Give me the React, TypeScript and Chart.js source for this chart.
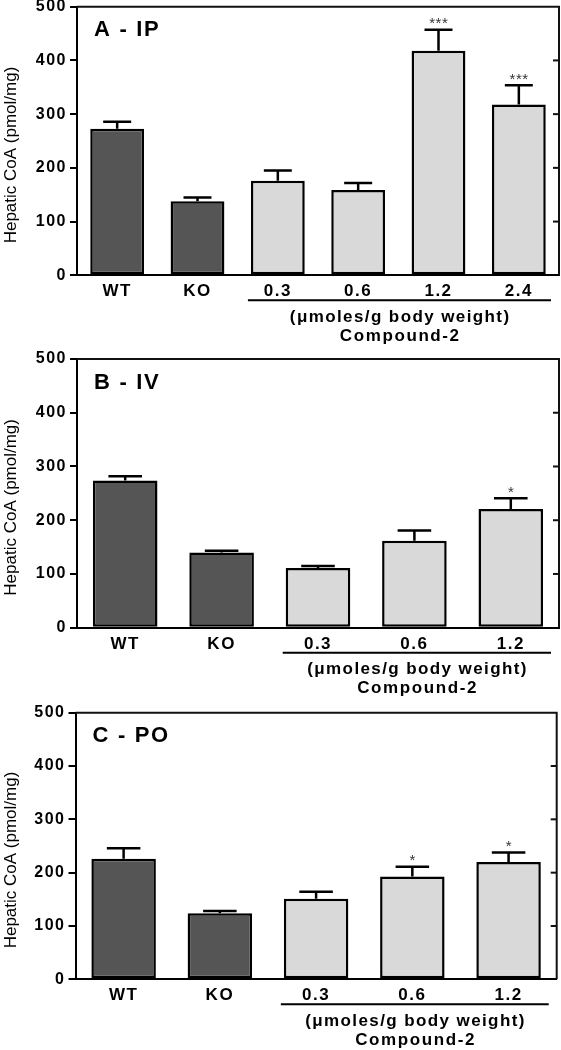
import React, { useEffect, useRef } from 'react';
import { Chart, registerables } from 'chart.js';

Chart.register(...registerables);

const FONT = "'Liberation Sans', Arial, Helvetica, sans-serif";

// ---- Data ----
const catsA = ['WT', 'KO', '0.3', '0.6', '1.2', '2.4'];
const valsA = [273, 138, 176, 159, 418, 318];
const errsA = [13, 7, 19, 13, 39, 36];
const sigA = ['', '', '', '', '***', '***'];

const catsB = ['WT', 'KO', '0.3', '0.6', '1.2'];
const valsB = [274, 140, 111, 162, 221];
const errsB = [8, 3, 4, 19, 20];
const sigB = ['', '', '', '', '*'];

const catsC = ['WT', 'KO', '0.3', '0.6', '1.2'];
const valsC = [226, 124, 151, 193, 220];
const errsC = [20, 4, 13, 18, 18];
const sigC = ['', '', '', '*', '*'];

const yMin = 0;
const yMax = 500;
const yStep = 100;
const yTitle = 'Hepatic CoA (pmol/mg)';
const doseUnit = '(\u03bcmoles/g body weight)';
const compoundName = 'Compound-2';
const controlCount = 2; // WT and KO are controls (dark bars)

// ---- Styles ----
const darkFill = '#555555';
const lightFill = '#d9d9d9';
const ink = '#000000';

type PanelDef = {
  label: string;
  cats: string[];
  vals: number[];
  errs: number[];
  sig: string[];
  top: number;
  bottom: number;
  left: number;
  right: number;
};

const CW = 561;
const CH = 350;

const panels: PanelDef[] = [
  { label: 'A - IP', cats: catsA, vals: valsA, errs: errsA, sig: sigA, top: 6.7, bottom: 275.3, left: 77, right: 559 },
  { label: 'B - IV', cats: catsB, vals: valsB, errs: errsB, sig: sigB, top: 9, bottom: 277.7, left: 77, right: 559 },
  { label: 'C - PO', cats: catsC, vals: valsC, errs: errsC, sig: sigC, top: 12.7, bottom: 279.3, left: 75.5, right: 556.7 },
];

function Panel({ def }: { def: PanelDef }) {
  const ref = useRef<HTMLCanvasElement | null>(null);

  useEffect(() => {
    const canvas = ref.current;
    if (!canvas) return;

    function barAt(chart: any, i: number) {
      const el = chart.getDatasetMeta(0).data[i];
      return el.getProps(['x', 'width'], true);
    }

    const overlay = {
      id: 'overlay',
      beforeDraw(chart: any) {
        chart.ctx.letterSpacing = '1.5px';
      },
      afterDatasetsDraw(chart: any) {
        const ctx = chart.ctx;
        const meta = chart.getDatasetMeta(0);
        const ys = chart.scales.y;
        ctx.save();
        ctx.letterSpacing = '0px';
        meta.data.forEach((bar: any, i: number) => {
          const p = bar.getProps(['x', 'y', 'width'], true);
          const yErr = ys.getPixelForValue(def.vals[i] + def.errs[i]);
          const capW = p.width * 0.52;
          ctx.strokeStyle = ink;
          ctx.lineWidth = 2.5;
          ctx.beginPath();
          ctx.moveTo(p.x, p.y);
          ctx.lineTo(p.x, yErr);
          ctx.moveTo(p.x - capW / 2, yErr);
          ctx.lineTo(p.x + capW / 2, yErr);
          ctx.stroke();
          if (def.sig[i]) {
            ctx.fillStyle = '#333333';
            ctx.font = `15px ${FONT}`;
            ctx.letterSpacing = '0.5px';
            ctx.textAlign = 'center';
            ctx.textBaseline = 'alphabetic';
            ctx.fillText(def.sig[i], p.x + 0.25, yErr - 1.5);
            ctx.letterSpacing = '0px';
          }
        });
        ctx.restore();
      },
      afterDraw(chart: any) {
        const ctx = chart.ctx;
        const a = chart.chartArea;
        const ys = chart.scales.y;
        ctx.save();
        ctx.letterSpacing = '0px';
        ctx.strokeStyle = '#111111';
        ctx.lineWidth = 2;
        // frame top & right
        ctx.beginPath();
        ctx.moveTo(a.left, a.top);
        ctx.lineTo(a.right, a.top);
        ctx.lineTo(a.right, a.bottom);
        ctx.stroke();
        // inward ticks on right border
        ys.ticks.forEach((t: any) => {
          if (t.value <= yMin || t.value >= yMax) return;
          const py = ys.getPixelForValue(t.value);
          ctx.beginPath();
          ctx.moveTo(a.right - 6, py);
          ctx.lineTo(a.right, py);
          ctx.stroke();
        });
        // panel label
        ctx.fillStyle = ink;
        ctx.font = `bold 22px ${FONT}`;
        ctx.letterSpacing = '1.7px';
        ctx.textAlign = 'left';
        ctx.textBaseline = 'alphabetic';
        ctx.fillText(def.label, a.left + 17, a.top + 29.5);
        // y axis title
        ctx.letterSpacing = '0px';
        ctx.save();
        ctx.translate(11, (a.top + a.bottom) / 2 + 14);
        ctx.rotate(-Math.PI / 2);
        ctx.font = `17px ${FONT}`;
        ctx.textAlign = 'center';
        ctx.textBaseline = 'middle';
        ctx.fillText(yTitle, 0, 0);
        ctx.restore();
        // dose underline
        const firstDose = barAt(chart, controlCount);
        const x0 = firstDose.x - firstDose.width / 2 - 3;
        const x1 = a.right - 8;
        ctx.strokeStyle = ink;
        ctx.lineWidth = 2;
        ctx.beginPath();
        ctx.moveTo(x0, a.bottom + 25);
        ctx.lineTo(x1, a.bottom + 25);
        ctx.stroke();
        const cx = (x0 + x1) / 2;
        ctx.font = `bold 17px ${FONT}`;
        ctx.textAlign = 'center';
        ctx.textBaseline = 'middle';
        ctx.letterSpacing = '1.4px';
        ctx.fillText(doseUnit, cx + 0.7, a.bottom + 42);
        ctx.letterSpacing = '1.6px';
        ctx.fillText(compoundName, cx + 0.8, a.bottom + 61);
        ctx.restore();
      },
    };

    const colors = def.cats.map((_, i) => (i < controlCount ? darkFill : lightFill));

    const chart = new Chart(canvas, {
      type: 'bar',
      data: {
        labels: def.cats,
        datasets: [
          {
            data: def.vals,
            backgroundColor: colors,
            borderColor: ink,
            borderWidth: 2.5,
            borderSkipped: false,
            barPercentage: 0.67,
            categoryPercentage: 1.0,
          },
        ],
      },
      options: {
        animation: false,
        responsive: false,
        devicePixelRatio: 1,
        layout: {
          padding: { left: 0, right: CW - def.right, top: def.top, bottom: 0 },
        },
        plugins: {
          legend: { display: false },
          tooltip: { enabled: false },
          title: { display: false },
        },
        scales: {
          x: {
            offset: true,
            grid: { display: false, drawTicks: false },
            border: { display: true, color: ink, width: 2 },
            ticks: {
              color: ink,
              padding: 6,
              font: { family: FONT, size: 17, weight: 'bold' },
              maxRotation: 0,
              autoSkip: false,
            },
            afterFit: (s: any) => {
              s.height = CH - def.bottom;
              s.paddingLeft = 0;
              s.paddingRight = 0;
            },
          },
          y: {
            min: yMin,
            max: yMax,
            grid: {
              display: true,
              drawOnChartArea: false,
              drawTicks: true,
              tickLength: 7,
              color: ink,
              lineWidth: 2,
            },
            border: { display: true, color: ink, width: 2 },
            ticks: {
              stepSize: yStep,
              color: ink,
              padding: 3,
              font: { family: FONT, size: 16, weight: 'bold' },
            },
            afterFit: (s: any) => {
              s.width = def.left;
              s.paddingTop = 0;
              s.paddingBottom = 0;
            },
          },
        },
      },
      plugins: [overlay],
    } as any);

    return () => {
      chart.destroy();
    };
  }, [def]);

  return (
    <canvas
      ref={ref}
      width={CW}
      height={CH}
      style={{ display: 'block', width: CW, height: CH }}
    />
  );
}

export default function App() {
  return (
    <div style={{ position: 'absolute', left: 0, top: 0, width: CW, height: CH * 3, background: '#fff' }}>
      {panels.map((p) => (
        <Panel key={p.label} def={p} />
      ))}
    </div>
  );
}
